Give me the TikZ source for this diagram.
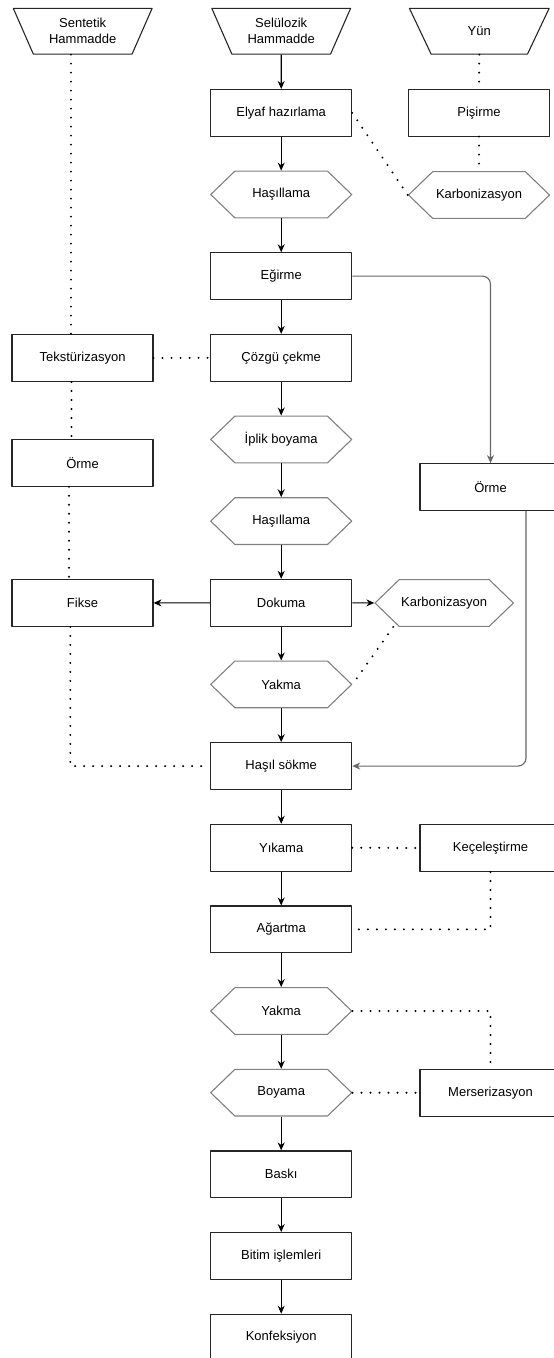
\documentclass[tikz,border=0pt]{standalone}
\usepackage{fontspec}
\setmainfont{Liberation Sans}
\usetikzlibrary{arrows.meta,shapes.geometric,shapes.symbols}

\begin{document}
\begin{tikzpicture}[x=1pt, y=-1pt, line join=round, >={Stealth[length=8pt,width=7pt]},
  font=\fontsize{13pt}{16pt}\selectfont,
  box/.style={draw=black!85, line width=1.1pt, minimum width=141pt, minimum height=46.7pt, inner sep=2pt},
  hexa/.style={draw=black!50, line width=1.1pt, signal, signal to=east and west, signal pointer angle=88,
    minimum width=141pt, minimum height=46.7pt, inner sep=2pt},
  src/.style={draw=black!85, line width=1.1pt, trapezium, trapezium angle=63, shape border rotate=180,
    trapezium stretches=true, minimum width=140pt, minimum height=45.7pt, align=center, inner sep=1pt},
  flow/.style={->, draw=black, line width=1.1pt},
  bypass/.style={->, draw=black!60, line width=1.1pt, rounded corners=8pt},
  dotline/.style={draw=black, line width=2.2pt, line cap=round, dash pattern=on 0pt off 9pt}]
  \useasboundingbox (0,0) rectangle (554,1358);
  % Raw materials (upside-down trapezia along the top).
  \node[src] (sent) at (82.7,31.2) {Sentetik\\Hammadde};
  \node[src] (selu) at (281.2,31.2) {Selülozik\\Hammadde};
  \node[src] (yun) at (479.3,31.2) {Yün};
  % Main line: one step per row, boxes and hexagons.
  \foreach \nm/\sty/\lbl [count=\i] in {elyaf/box/Elyaf hazırlama, hasA/hexa/Haşıllama, egir/box/Eğirme,
      cozgu/box/Çözgü çekme, iplik/hexa/İplik boyama, hasB/hexa/Haşıllama, dok/box/Dokuma,
      yakA/hexa/Yakma, hasil/box/Haşıl sökme, yika/box/Yıkama, agar/box/Ağartma, yakB/hexa/Yakma,
      boya/hexa/Boyama, bask/box/Baskı, bitim/box/Bitim işlemleri, konf/box/Konfeksiyon}
    \node[\sty] (\nm) at (281.2,31.2+81.65*\i) {\lbl};
  \foreach \a/\b in {selu/elyaf, elyaf/hasA, hasA/egir, egir/cozgu, cozgu/iplik, iplik/hasB, hasB/dok,
      dok/yakA, yakA/hasil, hasil/yika, yika/agar, agar/yakB, yakB/boya, boya/bask, bask/bitim, bitim/konf}
    \draw[flow] (\a.south) -- (\b.north);
  % Side branches.
  \node[box] (pisir) at (479,112.7) {Pişirme};
  \node[hexa] (karbA) at (479,195) {Karbonizasyon};
  \node[box] (tekst) at (82.5,358) {Tekstürizasyon};
  \node[box] (ormeL) at (82.5,462.9) {Örme};
  \node[box] (fikse) at (82.5,603) {Fikse};
  \node[box] (ormeR) at (490.5,487) {Örme};
  \node[hexa, minimum width=138pt] (karbB) at (444.2,603) {Karbonizasyon};
  \node[box] (kece) at (490.5,848) {Keçeleştirme};
  \node[box] (mers) at (490.5,1092.7) {Merserizasyon};
  % Solid links off the main line.
  \draw[flow] (dok) -- (fikse);
  \draw[flow] (dok) -- (karbB);
  \draw[bypass] (egir.east) -| (ormeR.north);
  \draw[bypass] ([xshift=35.5pt]ormeR.south) |- (hasil.east);
  % Dotted links (optional routes).
  \draw[dotline] ([xshift=-11.5pt]tekst.north |- sent.south) -- ([xshift=-11.5pt]tekst.north);
  \draw[dotline] ([xshift=-11pt]tekst.south) -- ([xshift=-11pt]ormeL.north);
  \draw[dotline] ([xshift=-13.5pt]ormeL.south) -- ([xshift=-13.5pt]fikse.north);
  \draw[dotline] ([xshift=-12.2pt]fikse.south) |- (hasil.west);
  \draw[dotline] (tekst.east) -- (cozgu.west);
  \draw[dotline] (yun.south) -- (pisir.north);
  \draw[dotline] (pisir.south) -- (karbA.north);
  \draw[dotline] (elyaf.east) -- (karbA.west);
  \draw[dotline] ([xshift=-51pt]karbB.south) -- (yakA.east);
  \draw[dotline] (yika.east) -- (kece.west);
  \draw[dotline] (kece.south) |- (agar.east);
  \draw[dotline] (yakB.east) -| (mers.north);
  \draw[dotline] (boya.east) -- (mers.west);
\end{tikzpicture}
\end{document}
